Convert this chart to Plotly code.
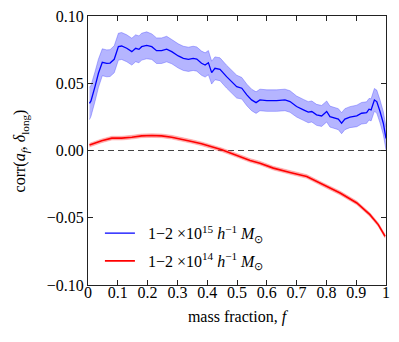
import plotly.graph_objects as go

# ---- data ----
f_blue = [0.005, 0.010, 0.0235, 0.035, 0.048, 0.063, 0.074, 0.088, 0.102, 0.113,
          0.130, 0.147, 0.160, 0.171, 0.180, 0.197, 0.214, 0.230, 0.247, 0.264,
          0.281, 0.303, 0.320, 0.337, 0.353, 0.365, 0.381, 0.393, 0.404, 0.415,
          0.426, 0.443, 0.465, 0.482, 0.499, 0.516, 0.533, 0.549, 0.564, 0.577,
          0.600, 0.633, 0.661, 0.678, 0.700, 0.723, 0.739, 0.751, 0.767, 0.784,
          0.801, 0.812, 0.829, 0.840, 0.851, 0.862, 0.879, 0.902, 0.918, 0.935,
          0.943, 0.950, 0.961, 0.969, 0.980, 0.991, 1.000]
blue_corr = [0.0350, 0.0369, 0.0475, 0.0574, 0.0656, 0.0648, 0.0650, 0.0678, 0.0772, 0.0777,
             0.0760, 0.0735, 0.0760, 0.0752, 0.0772, 0.0782, 0.0772, 0.0742, 0.0742, 0.0754,
             0.0735, 0.0703, 0.0685, 0.0678, 0.0685, 0.0680, 0.0649, 0.0636, 0.0653, 0.0579,
             0.0611, 0.0604, 0.0549, 0.0512, 0.0475, 0.0463, 0.0413, 0.0376, 0.0356, 0.0376,
             0.0371, 0.0371, 0.0376, 0.0364, 0.0327, 0.0302, 0.0285, 0.0290, 0.0265, 0.0257,
             0.0290, 0.0252, 0.0240, 0.0233, 0.0203, 0.0233, 0.0248, 0.0257, 0.0277, 0.0282,
             0.0307, 0.0302, 0.0376, 0.0364, 0.0290, 0.0203, 0.0090]
blue_err = [0.0120, 0.0115, 0.0110, 0.0105, 0.0100, 0.0100, 0.0100, 0.0100, 0.0100, 0.0100,
            0.0100, 0.0100, 0.0100, 0.0100, 0.0100, 0.0100, 0.0095, 0.0095, 0.0095, 0.0095,
            0.0090, 0.0090, 0.0090, 0.0090, 0.0090, 0.0090, 0.0090, 0.0090, 0.0090, 0.0085,
            0.0085, 0.0085, 0.0085, 0.0085, 0.0085, 0.0080, 0.0080, 0.0080, 0.0080, 0.0080,
            0.0080, 0.0080, 0.0080, 0.0080, 0.0078, 0.0078, 0.0078, 0.0078, 0.0078, 0.0078,
            0.0078, 0.0078, 0.0078, 0.0078, 0.0078, 0.0078, 0.0078, 0.0080, 0.0080, 0.0080,
            0.0080, 0.0082, 0.0085, 0.0085, 0.0085, 0.0085, 0.0085]

f_red = [0.005, 0.046, 0.080, 0.113, 0.147, 0.180, 0.214, 0.247, 0.281, 0.314,
         0.348, 0.381, 0.415, 0.449, 0.482, 0.521, 0.544, 0.577, 0.622, 0.678,
         0.734, 0.790, 0.846, 0.902, 0.946, 0.974, 0.997]
red_corr = [0.0040, 0.0072, 0.0092, 0.0092, 0.0099, 0.0109, 0.0111, 0.0109, 0.0099, 0.0085,
            0.0067, 0.0050, 0.0030, 0.0005, -0.0022, -0.0056, -0.0074, -0.0094, -0.0131, -0.0163,
            -0.0193, -0.0255, -0.0316, -0.0390, -0.0477, -0.0551, -0.0638]
red_err = [0.0014] * len(f_red)

x_ticks = [0, 0.1, 0.2, 0.3, 0.4, 0.5, 0.6, 0.7, 0.8, 0.9, 1]
x_tick_text = ["0", "0.1", "0.2", "0.3", "0.4", "0.5", "0.6", "0.7", "0.8", "0.9", "1"]
y_ticks = [-0.10, -0.05, 0.00, 0.05, 0.10]

label_blue = "\u00a0\u00a01\u22122 \u00d710<sup>15</sup> <i>h</i><sup>\u22121</sup> <i>M</i><sub>\u2299</sub>"
label_red = "\u00a0\u00a01\u22122 \u00d710<sup>14</sup> <i>h</i><sup>\u22121</sup> <i>M</i><sub>\u2299</sub>"
y_title = "corr(<i>a<sub>f</sub></i>, <i>\u03b4</i><sub>long</sub>)"
x_title = "mass fraction, <i>f</i>"

FONT = "Liberation Serif"
FS = 16

fig = go.Figure()

# zero line
fig.add_trace(go.Scatter(x=[0, 1], y=[0, 0], mode="lines",
                         line=dict(color="#444444", width=1.2, dash="6px,4px"),
                         showlegend=False, hoverinfo="skip"))

# blue band
fig.add_trace(go.Scatter(x=f_blue, y=[m + e for m, e in zip(blue_corr, blue_err)],
                         mode="lines", line=dict(color="rgba(60,60,255,0.45)", width=0.8),
                         showlegend=False, hoverinfo="skip"))
fig.add_trace(go.Scatter(x=f_blue, y=[m - e for m, e in zip(blue_corr, blue_err)],
                         mode="lines", line=dict(color="rgba(60,60,255,0.45)", width=0.8),
                         fill="tonexty", fillcolor="rgba(70,70,255,0.40)",
                         showlegend=False, hoverinfo="skip"))
# red band
fig.add_trace(go.Scatter(x=f_red, y=[m + e for m, e in zip(red_corr, red_err)],
                         mode="lines", line=dict(color="rgba(255,60,60,0.4)", width=0.6),
                         showlegend=False, hoverinfo="skip"))
fig.add_trace(go.Scatter(x=f_red, y=[m - e for m, e in zip(red_corr, red_err)],
                         mode="lines", line=dict(color="rgba(255,60,60,0.4)", width=0.6),
                         fill="tonexty", fillcolor="rgba(255,70,70,0.40)",
                         showlegend=False, hoverinfo="skip"))

fig.add_trace(go.Scatter(x=f_blue, y=blue_corr, mode="lines",
                         line=dict(color="#0000ff", width=1.3),
                         name=label_blue, legendgroup="a"))
fig.add_trace(go.Scatter(x=f_red, y=red_corr, mode="lines",
                         line=dict(color="#ff0000", width=1.6),
                         name=label_red, legendgroup="b"))

axis_common = dict(showline=True, linecolor="#222222", linewidth=1, mirror="allticks",
                   ticks="inside", ticklen=5, tickwidth=1, tickcolor="#222222",
                   showgrid=False, zeroline=False, automargin=False,
                   ticklabeloverflow="allow",
                   tickfont=dict(family=FONT, size=FS, color="black"))

fig.update_xaxes(range=[0, 1], tickvals=x_ticks, ticktext=x_tick_text,
                 ticklabelstandoff=-7,
                 title=dict(text=x_title, standoff=10,
                            font=dict(family=FONT, size=FS, color="black")),
                 **axis_common)
fig.update_yaxes(range=[-0.10, 0.10], tickvals=y_ticks, tickformat=".2f",
                 **axis_common)

# y-axis title placed as a rotated annotation
fig.add_annotation(text=y_title, xref="paper", yref="paper",
                   x=-0.225, y=0.5, xanchor="center", yanchor="middle",
                   textangle=-90, showarrow=False,
                   font=dict(family=FONT, size=FS, color="black"))

# the page body adds an 8px offset, so the figure is sized to the remaining window
fig.update_layout(
    template="none",
    width=391, height=334,
    margin=dict(l=80, r=13, t=8, b=57, autoexpand=False),
    paper_bgcolor="white", plot_bgcolor="white",
    font=dict(family=FONT, size=FS, color="black"),
    legend=dict(x=0.04, y=0.256, xanchor="left", yanchor="top",
                bgcolor="rgba(0,0,0,0)", borderwidth=0, tracegroupgap=4,
                font=dict(family=FONT, size=FS, color="black")),
)

fig.write_html("out.html")
